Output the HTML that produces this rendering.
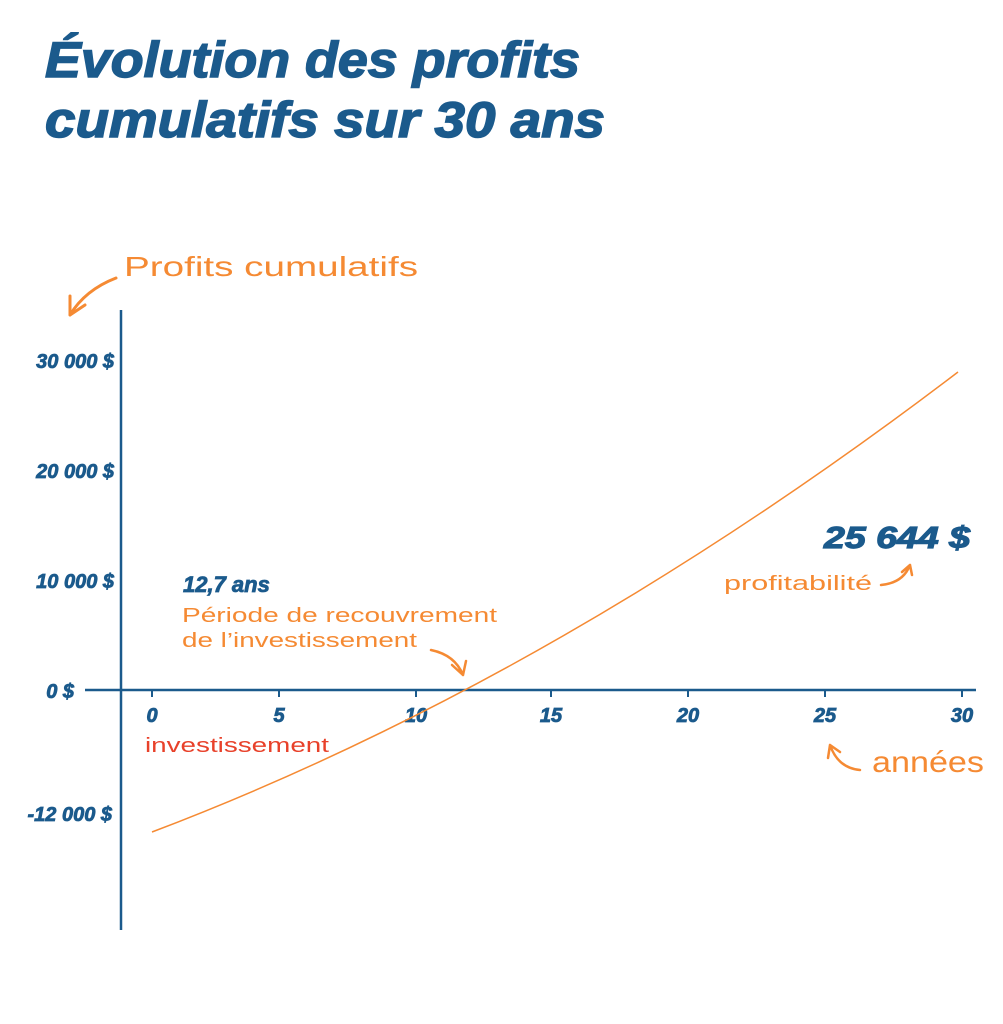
<!DOCTYPE html>
<html><head><meta charset="utf-8"><style>
body{margin:0;background:#fff;width:1003px;height:1024px;overflow:hidden}
svg{display:block}
.t{font-family:"Liberation Sans",sans-serif;font-weight:bold;font-style:italic;fill:#1b5a8c;stroke:#1b5a8c;stroke-width:0.8}
.h{font-family:"Liberation Sans",sans-serif;fill:#f58a33}
</style></head><body>
<svg width="1003" height="1024" viewBox="0 0 1003 1024">
<text class="t" x="45" y="77" font-size="50" style="stroke-width:1.5" textLength="535" lengthAdjust="spacingAndGlyphs">Évolution des profits</text>
<text class="t" x="45" y="137" font-size="50" style="stroke-width:1.5" textLength="560" lengthAdjust="spacingAndGlyphs">cumulatifs sur 30 ans</text>
<text class="h" x="124" y="276" font-size="28" textLength="294" lengthAdjust="spacingAndGlyphs">Profits cumulatifs</text>
<path d="M116 278 Q85 290 70 315 M70 315 L70 296 M70 315 L85 305" stroke="#f58a33" stroke-width="3" fill="none" stroke-linecap="round"/>
<line x1="121" y1="310" x2="121" y2="930" stroke="#1b5a8c" stroke-width="2.5"/>
<line x1="85" y1="690" x2="976" y2="690" stroke="#1b5a8c" stroke-width="2.5"/>
<g stroke="#1b5a8c" stroke-width="2">
<line x1="152" y1="690" x2="152" y2="697"/><line x1="279" y1="690" x2="279" y2="697"/><line x1="416" y1="690" x2="416" y2="697"/><line x1="551" y1="690" x2="551" y2="697"/><line x1="688" y1="690" x2="688" y2="697"/><line x1="825" y1="690" x2="825" y2="697"/><line x1="962" y1="690" x2="962" y2="697"/></g>
<g class="t" font-size="20" text-anchor="middle">
<text x="152" y="722">0</text><text x="279" y="722">5</text><text x="416" y="722">10</text><text x="551" y="722">15</text><text x="688" y="722">20</text><text x="825" y="722">25</text><text x="962" y="722">30</text></g>
<g class="t" font-size="20" text-anchor="end">
<text x="114" y="368">30 000 $</text><text x="114" y="478">20 000 $</text><text x="114" y="588">10 000 $</text><text x="74" y="698">0 $</text><text x="112" y="821">-12 000 $</text></g>
<path d="M152 832 Q555 679 958 372" stroke="#f58a33" stroke-width="1.5" fill="none"/>
<text class="t" x="183" y="592" font-size="22">12,7 ans</text>
<text class="h" x="182" y="622" font-size="20" textLength="315" lengthAdjust="spacingAndGlyphs">Période de recouvrement</text>
<text class="h" x="182" y="647" font-size="20" textLength="235" lengthAdjust="spacingAndGlyphs">de l’investissement</text>
<path d="M431 650 Q455 655 463 675 M463 675 L452 665 M463 675 L466 661" stroke="#f58a33" stroke-width="2.5" fill="none" stroke-linecap="round"/>
<text class="h" x="145" y="752" font-size="20" style="fill:#e8412a" textLength="184" lengthAdjust="spacingAndGlyphs">investissement</text>
<text class="t" x="824" y="548" font-size="31" style="stroke-width:1.2" textLength="146" lengthAdjust="spacingAndGlyphs">25 644 $</text>
<text class="h" x="724" y="590" font-size="20" textLength="148" lengthAdjust="spacingAndGlyphs">profitabilité</text>
<path d="M881 585 Q903 583 910 565 M910 565 L902 572 M910 565 L912 575" stroke="#f58a33" stroke-width="2.5" fill="none" stroke-linecap="round"/>
<text class="h" x="872" y="772" font-size="30" textLength="112" lengthAdjust="spacingAndGlyphs">années</text>
<path d="M860 770 Q838 768 830 745 M830 745 L828 758 M830 745 L840 752" stroke="#f58a33" stroke-width="2.5" fill="none" stroke-linecap="round"/>
</svg>
</body></html>
